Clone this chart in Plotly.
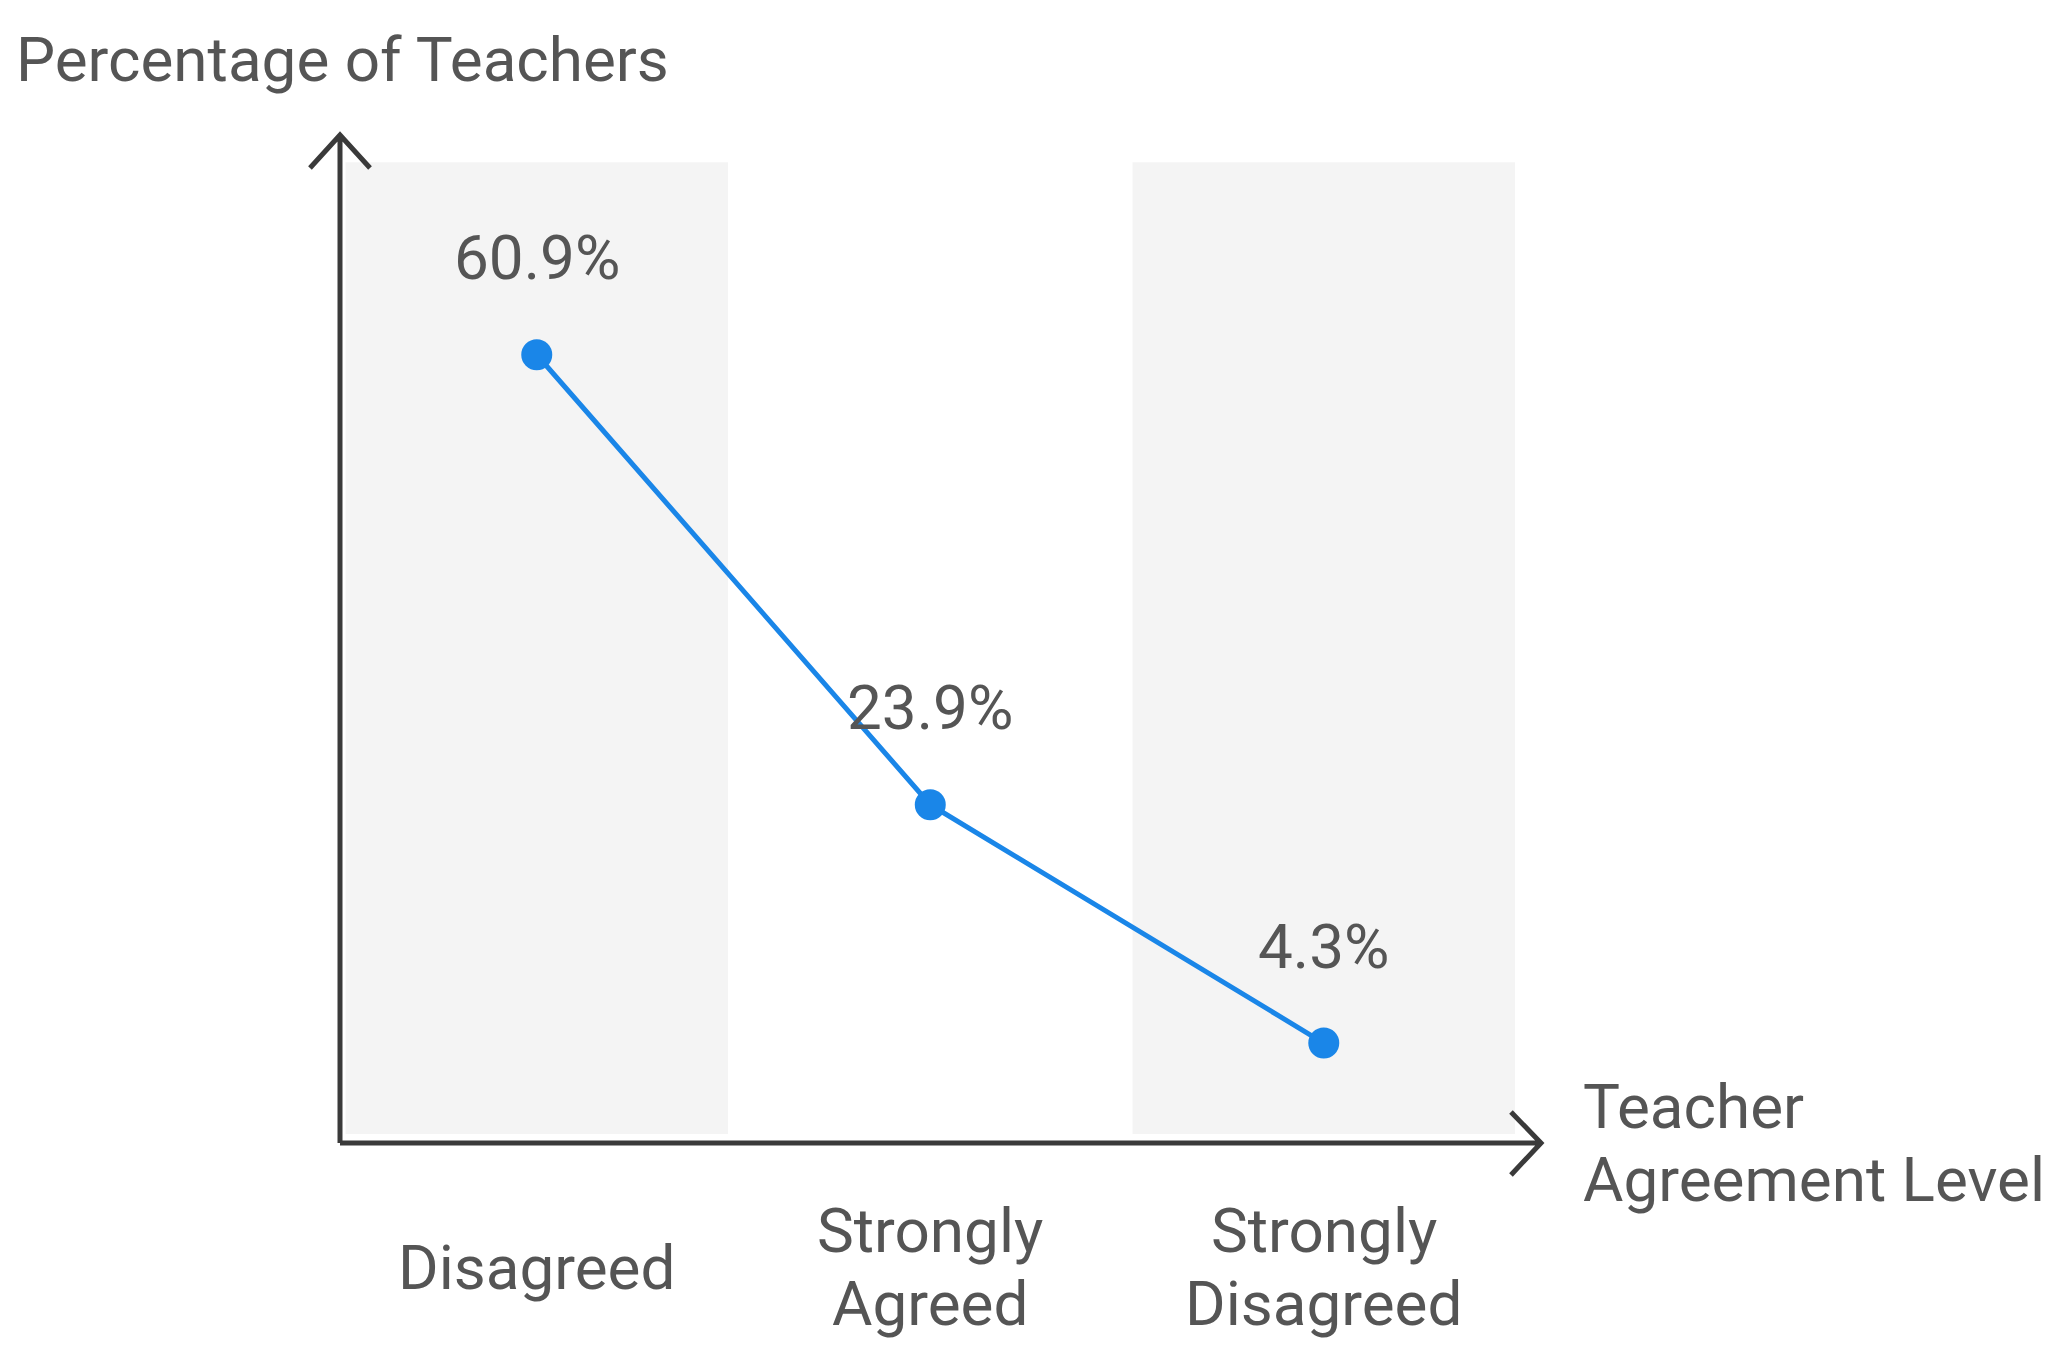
import plotly.graph_objects as go

# data
categories = ["Disagreed", "Strongly<br>Agreed", "Strongly<br>Disagreed"]
values = [60.9, 23.9, 4.3]
value_labels = ["60.9%", "23.9%", "4.3%"]
y_title = "Percentage of Teachers"
x_title_lines = ["Teacher", "Agreement Level"]

BLUE = "#1a86e8"
TEXT = "#555555"
AXIS = "#3a3a3a"
BAND = "#f4f4f4"
FONT = "Roboto"
FS = 62
LINE_GAP = 73  # px between stacked text lines

xs = list(range(len(categories)))

fig = go.Figure()
fig.add_scatter(x=xs, y=values, mode="lines+markers",
                line=dict(color=BLUE, width=5),
                marker=dict(color=BLUE, size=31),
                cliponaxis=False, hoverinfo="skip", showlegend=False)

# alternating grey bands behind categories
shapes = []
for i in xs:
    if i % 2 == 0:
        shapes.append(dict(type="rect", xref="x", yref="paper",
                           x0=i - 0.486, x1=i + 0.486, y0=0.009, y1=0.973,
                           fillcolor=BAND, line_width=0, layer="below"))

# axes with open chevron arrowheads (paper coords)
axis_path = ("M0,0 L0,1 M-0.025,0.9673 L0,1 L0.025,0.9673 "
             "M0,0 L1,0 M0.975,0.0308 L1,0 L0.975,-0.0317")
shapes.append(dict(type="path", xref="paper", yref="paper", path=axis_path,
                   line=dict(color=AXIS, width=5)))

font = dict(family=FONT, size=FS, color=TEXT)
annotations = []
for i, v, lab in zip(xs, values, value_labels):
    annotations.append(dict(x=i, y=v, xref="x", yref="y", text=lab,
                            showarrow=False, yshift=97, font=font))

# category labels, each line placed separately so the spacing is tight
for i, cat in zip(xs, categories):
    lines = cat.split("<br>")
    n = len(lines)
    for k, ln in enumerate(lines):
        shift = -124 - (k - (n - 1) / 2) * LINE_GAP
        annotations.append(dict(x=i, y=0, xref="x", yref="paper", text=ln,
                                showarrow=False, yshift=shift,
                                yanchor="middle", font=font))

for k, ln in enumerate(x_title_lines):
    shift = -(k - (len(x_title_lines) - 1) / 2) * LINE_GAP
    annotations.append(dict(x=1.0333, y=0, xref="paper", yref="paper",
                            text=ln, showarrow=False, xanchor="left",
                            yanchor="middle", yshift=shift, font=font))

fig.update_layout(
    width=2053, height=1356, autosize=False,
    margin=dict(l=332, r=520, t=127, b=221),
    paper_bgcolor="white", plot_bgcolor="white",
    title=dict(text=y_title, xref="container", yref="container",
               x=8 / 2053, xanchor="left", y=1 - 51 / 1356, yanchor="middle",
               font=font),
    xaxis=dict(range=[-0.5, 2.552], showgrid=False, zeroline=False,
               showticklabels=False, showline=False),
    yaxis=dict(range=[-3.92, 78.97], showgrid=False, zeroline=False,
               showticklabels=False, showline=False),
    shapes=shapes, annotations=annotations,
)

fig.write_html("out.html")
